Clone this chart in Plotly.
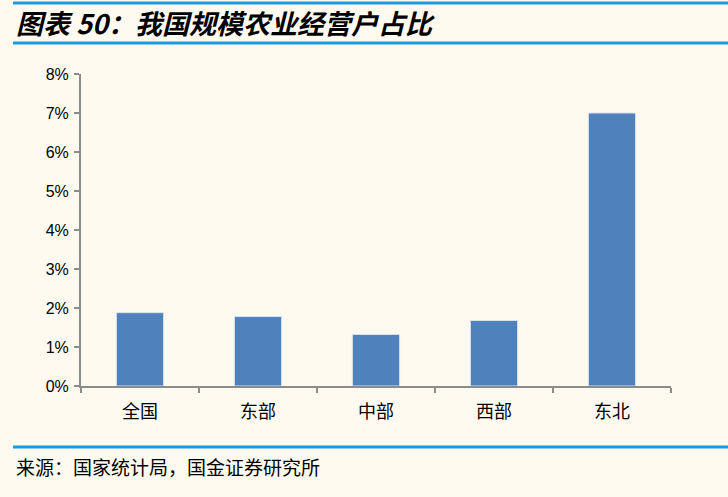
import plotly.graph_objects as go

categories = ["全国", "东部", "中部", "西部", "东北"]
values = [1.88, 1.78, 1.32, 1.68, 7.0]
y_ticks = [0, 1, 2, 3, 4, 5, 6, 7, 8]
y_tick_labels = [f"{v}%" for v in y_ticks]

W, H = 728, 497
bg = "#FEFAF0"
line_blue = "#1A9BE0"
axis_gray = "#8C8C8C"

fig = go.Figure()
fig.add_trace(go.Bar(
    x=categories, y=values,
    marker=dict(color="#4F81BD", line=dict(color="#D9E3F0", width=1)),
    width=0.4,
))

L, R, T, B = 81, 57, 74, 111
PW, PH = W - L - R, H - T - B


def px_x(x):
    return (x - L) / PW


def px_y(y):
    return (H - B - y) / PH


fig.update_layout(
    width=W, height=H,
    paper_bgcolor=bg, plot_bgcolor=bg,
    margin=dict(l=L, r=R, t=T, b=B),
    showlegend=False,
    xaxis=dict(
        showline=True, linecolor=axis_gray, linewidth=2,
        ticks="outside", tickson="boundaries", ticklen=5, tickcolor=axis_gray, tickwidth=2,
        tickfont=dict(family="Noto Sans CJK SC", size=18, color="#000000"),
        ticklabelstandoff=8,
        showgrid=False, zeroline=False,
    ),
    yaxis=dict(
        range=[0, 8], tickvals=y_ticks, ticktext=y_tick_labels,
        showline=True, linecolor=axis_gray, linewidth=2,
        ticks="outside", ticklen=5, tickcolor=axis_gray, tickwidth=2,
        tickfont=dict(family="Liberation Sans, Arial", size=16, color="#000000"),
        ticklabelstandoff=2,
        showgrid=False, zeroline=False,
    ),
    shapes=[
        dict(type="line", xref="paper", yref="paper",
             x0=px_x(13), x1=px_x(W), y0=px_y(3), y1=px_y(3),
             line=dict(color=line_blue, width=3)),
        dict(type="line", xref="paper", yref="paper",
             x0=px_x(13), x1=px_x(W), y0=px_y(43), y1=px_y(43),
             line=dict(color=line_blue, width=3)),
        dict(type="line", xref="paper", yref="paper",
             x0=px_x(13), x1=px_x(W), y0=px_y(447), y1=px_y(447),
             line=dict(color=line_blue, width=3)),
    ],
    annotations=[
        dict(text="<b><i>图表 50：我国规模农业经营户占比</i></b>",
             xref="paper", yref="paper",
             x=px_x(14), y=px_y(23),
             xanchor="left", yanchor="middle", showarrow=False,
             font=dict(family="Noto Sans CJK SC", size=27, color="#000000")),
        dict(text="来源：国家统计局，国金证券研究所",
             xref="paper", yref="paper",
             x=px_x(14), y=px_y(466),
             xanchor="left", yanchor="middle", showarrow=False,
             font=dict(family="Noto Sans CJK SC", size=19, color="#000000")),
    ],
)

fig.write_html(
    "out.html",
    config={"displayModeBar": False},
    post_script="document.body.style.margin='0';document.body.style.background='" + bg + "';",
)
